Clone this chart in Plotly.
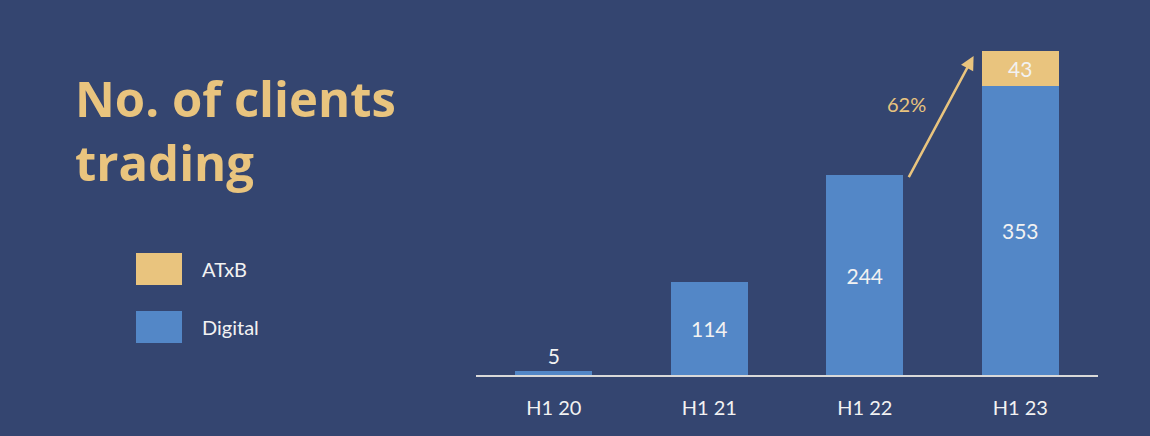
import plotly.graph_objects as go

categories = ["H1 20", "H1 21", "H1 22", "H1 23"]
digital = [5, 114, 244, 353]
atxb = [None, None, None, 43]
growth_label = "62%"
title_lines = ["No. of clients", "trading"]

BG = "#344570"
BLUE = "#5387C7"
GOLD = "#E9C47E"
WHITE = "#F2F2F2"
FONT = "Lato"

fig = go.Figure()
fig.add_trace(go.Bar(
    x=categories, y=digital, name="Digital", marker_color=BLUE,
    marker_line_width=0,
    text=[str(v) for v in digital],
    textposition=["outside", "inside", "inside", "inside"],
    insidetextanchor="middle",
    textfont=dict(color=WHITE, size=21, family=FONT),
    cliponaxis=False, showlegend=False,
))
fig.add_trace(go.Bar(
    x=categories, y=atxb, name="ATxB", marker_color=GOLD,
    marker_line_width=0,
    text=["" if v is None else str(v) for v in atxb],
    textposition="inside", insidetextanchor="middle",
    textfont=dict(color=WHITE, size=21, family=FONT),
    showlegend=False,
))

fig.update_layout(
    width=1150, height=436,
    margin=dict(l=476, r=52, t=40, b=61),
    paper_bgcolor=BG, plot_bgcolor=BG,
    barmode="stack", bargap=0.505,
    xaxis=dict(
        showgrid=False, zeroline=False, showline=True,
        linecolor="#D9D9D9", linewidth=2,
        tickfont=dict(color=WHITE, size=20, family=FONT),
        ticks="", ticklabelstandoff=14,
    ),
    yaxis=dict(range=[0, 409.5], visible=False, showgrid=False, zeroline=False),
    font=dict(family=FONT, color=WHITE),
)

def px_x(p):
    return (p - 476) / 622

def px_y(p):
    return (375 - p) / 335

# Title
fig.add_annotation(
    xref="paper", yref="paper", x=px_x(73), y=px_y(63),
    xanchor="left", yanchor="top", align="left", showarrow=False,
    text="<b>" + "<br>".join(title_lines) + "</b>",
    font=dict(family="Open Sans", size=49, color=GOLD),
)

# Legend (manual, large swatches)
for (name, color, y0, y1) in [("ATxB", GOLD, 253, 285), ("Digital", BLUE, 311, 343)]:
    fig.add_shape(type="rect", xref="paper", yref="paper",
                  x0=px_x(136), x1=px_x(182), y0=px_y(y1), y1=px_y(y0),
                  fillcolor=color, line_width=0)
    fig.add_annotation(xref="paper", yref="paper", x=px_x(200), y=px_y((y0 + y1) / 2),
                       xanchor="left", yanchor="middle", showarrow=False,
                       text=name, font=dict(family=FONT, size=20, color=WHITE))

# Growth arrow
fig.add_annotation(
    x=2.70, y=390, ax=2.278, ay=240, xref="x", yref="y", axref="x", ayref="y",
    showarrow=True, arrowhead=2, arrowsize=1.1, arrowwidth=2.5, arrowcolor=GOLD, text="",
)
fig.add_annotation(
    x=2.27, y=331, xref="x", yref="y", showarrow=False, text=growth_label,
    font=dict(family=FONT, size=20, color=GOLD),
)

fig.write_html("out.html")
